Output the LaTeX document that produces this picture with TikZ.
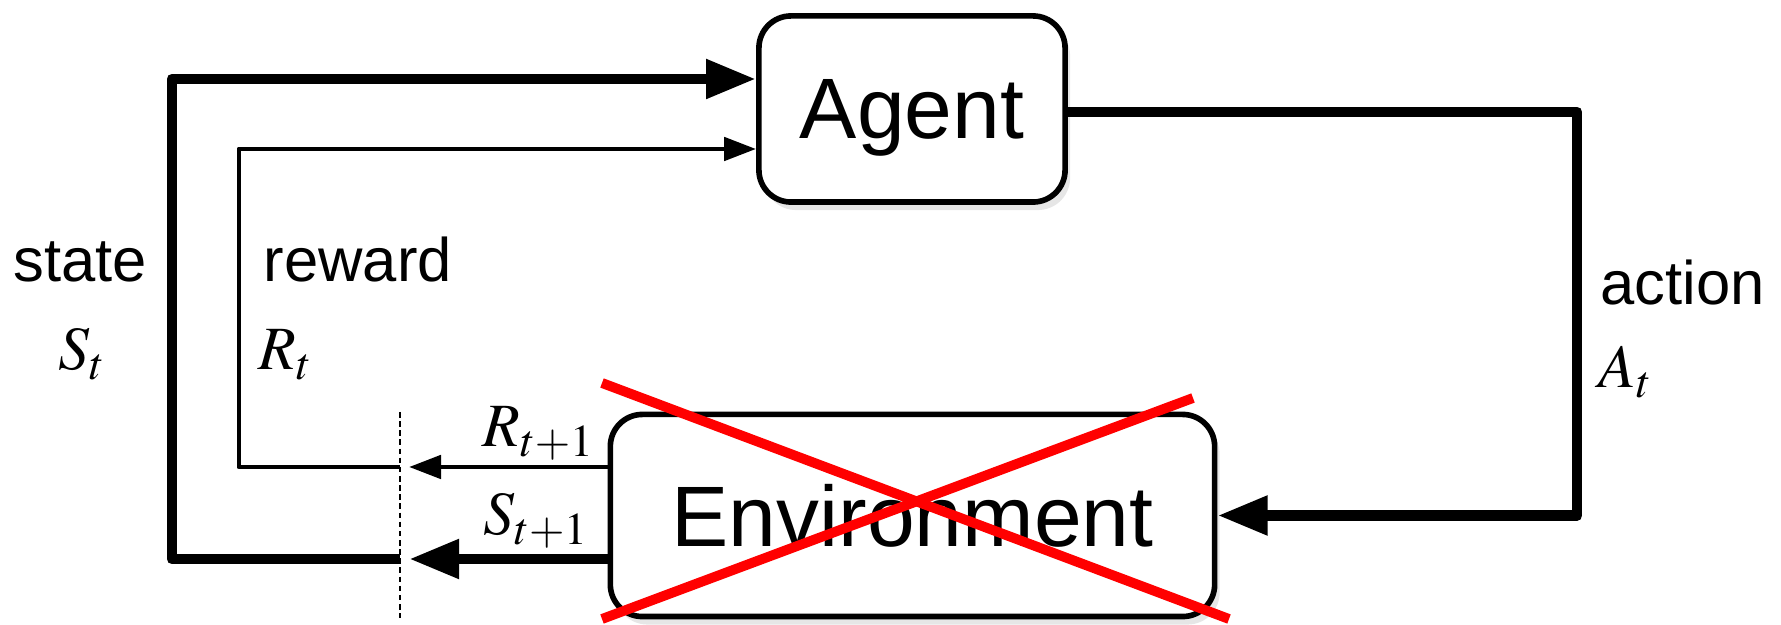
\documentclass[tikz,border=0pt]{standalone}
\usepackage{mathptmx}
\usepackage[no-math]{fontspec}
\setmainfont{Liberation Sans}
\usetikzlibrary{arrows.meta, shadows}

\tikzset{
  box/.style={draw, line width=1.6pt, rounded corners=0.32cm, fill=white,
    font=\fontsize{24.4}{29}\selectfont, text depth=0pt,
    drop shadow={shadow xshift=0.5mm, shadow yshift=-0.8mm, opacity=0.2}},
  heavy/.style={line width=3.1pt, line join=round},
  light/.style={line width=1.4pt, line join=round},
  bigtip/.style={-{Triangle[length=0.5cm, width=0.37cm]}},
  smalltip/.style={-{Triangle[length=0.32cm, width=0.23cm]}},
  lbl/.style={inner sep=0pt, font=\fontsize{17.5}{21}\selectfont},
  cross/.style={red, line width=2.8pt},
}

\begin{document}
\begin{tikzpicture}[x=0.01cm, y=-0.01cm]
  \useasboundingbox (0,0) rectangle (1781,625);
  % the two boxes
  \node[box, minimum width=3.06cm, minimum height=1.86cm] (agent) at (912,109) {Agent};
  \node[box, minimum width=6.04cm, minimum height=2.02cm] (env) at (912.5,515.5) {Environment};
  % corners and cut points
  \coordinate (sc) at (172,79);
  \coordinate (rc) at (239,149);
  \coordinate (ac) at (1577,112);
  \coordinate (sout) at (400,559);
  \coordinate (rout) at (400,467);
  \coordinate (stip) at (409,559);
  \coordinate (rtip) at (409,467);
  \coordinate (cuttop) at (400,412);
  \coordinate (cutbot) at (400,618);
  % time step boundary
  \draw[line width=0.6pt, dash pattern=on 1.6pt off 1pt] (cuttop) -- (cutbot);
  % state and reward back to the agent
  \draw[heavy, bigtip] (env.west |- stip) -- (stip);
  \draw[light, smalltip] (env.west |- rtip) -- (rtip);
  \draw[heavy, bigtip] (sout) -| (sc) -- (agent.west |- sc);
  \draw[light, smalltip] (rout) -| (rc) -- (agent.west |- rc);
  % action
  \draw[heavy, bigtip] (agent.east |- ac) -- (ac) |- (env.east);
  % labels
  \node[lbl, anchor=base] (state) at (80,282) {state};
  \node[lbl, anchor=base west] (st) at (58,370) {$S_t$};
  \node[lbl, anchor=base west] (reward) at (263,282) {reward};
  \node[lbl, anchor=base west] (rt) at (258,370) {$R_t$};
  \node[lbl, anchor=base west] (action) at (1600,305) {action};
  \node[lbl, anchor=base west] (at) at (1598,388) {$A_t$};
  \node[lbl, anchor=base west] (rnext) at (482,447) {$R_{t+1}$};
  \node[lbl, anchor=base west] (snext) at (483,535) {$S_{t+1}$};
  % crossed out
  \draw[cross] (602,383) -- (1229,619);
  \draw[cross] (602,619) -- (1193,398);
\end{tikzpicture}
\end{document}
